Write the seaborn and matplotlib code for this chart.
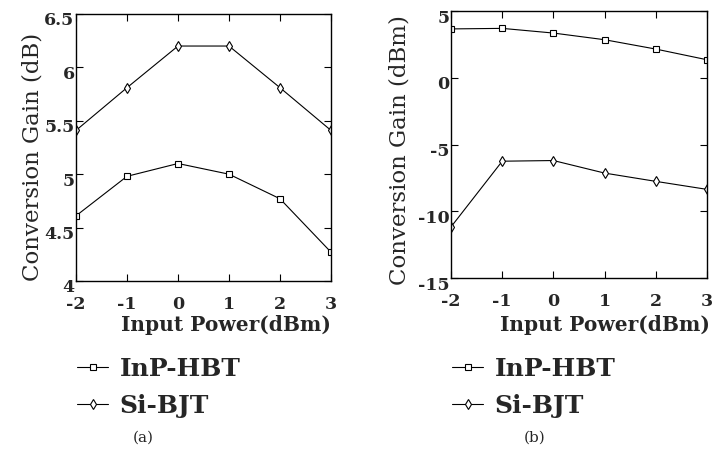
import matplotlib
matplotlib.use("Agg")
import matplotlib.pyplot as plt
import matplotlib.transforms as mtransforms
import pandas as pd
import seaborn as sns

# data
power = [-2, -1, 0, 1, 2, 3]
inp_a = [4.61, 4.98, 5.10, 5.00, 4.77, 4.27]
si_a = [5.41, 5.81, 6.20, 6.20, 5.81, 5.41]
inp_b = [3.66, 3.70, 3.35, 2.85, 2.15, 1.35]
si_b = [-11.17, -6.25, -6.2, -7.14, -7.76, -8.36]

x_ticks = [-2, -1, 0, 1, 2, 3]
y_ticks_a = [4, 4.5, 5, 5.5, 6, 6.5]
y_labels_a = ["4", "4.5", "5", "5.5", "6", "6.5"]
y_ticks_b = [-15, -10, -5, 0, 5]
y_labels_b = ["-15", "-10", "-5", "0", "5"]

df_a = pd.DataFrame({"power": power, "InP-HBT": inp_a, "Si-BJT": si_a})
df_b = pd.DataFrame({"power": power, "InP-HBT": inp_b, "Si-BJT": si_b})

sns.set_style("ticks")
plt.rcParams["font.family"] = ["DejaVu Serif"]

fig = plt.figure(figsize=(7.15, 4.5), dpi=100)
ax1 = fig.add_axes([0.1063, 0.3756, 0.3566, 0.5933])
ax2 = fig.add_axes([0.6308, 0.3822, 0.358, 0.5933])


def draw_panel(ax, df, yticks, ylabels, ylim, ylabel, ylab_x, ylab_y, xlab_x, xlab_y, leg_y):
    sns.lineplot(data=df, x="power", y="InP-HBT", ax=ax, color="black", lw=0.8,
                 marker="s", markersize=4, markerfacecolor="white",
                 markeredgecolor="black", markeredgewidth=0.8, label="InP-HBT")
    sns.lineplot(data=df, x="power", y="Si-BJT", ax=ax, color="black", lw=0.8,
                 marker="d", markersize=5.5, markerfacecolor="white",
                 markeredgecolor="black", markeredgewidth=0.8, label="Si-BJT")
    ax.set_xlim(-2, 3)
    ax.set_ylim(*ylim)
    ax.set_xticks(x_ticks)
    ax.set_xticklabels([str(t) for t in x_ticks], fontweight="bold", fontsize=12.5)
    ax.set_yticks(yticks)
    ax.set_yticklabels(ylabels, fontweight="bold", fontsize=12.5)
    ax.tick_params(direction="in", top=True, right=True, length=5, width=0.8,
                   pad=1, color="black")
    ax.tick_params(axis="x", pad=11)
    # y tick labels sit a little below their ticks in the original
    shift = mtransforms.ScaledTranslation(0, -0.05, fig.dpi_scale_trans)
    for lab in ax.get_yticklabels():
        lab.set_transform(lab.get_transform() + shift)
    for s in ax.spines.values():
        s.set_linewidth(1.0)
        s.set_color("black")
    ax.set_xlabel("Input Power(dBm)", fontweight="bold", fontsize=14.5)
    ax.xaxis.set_label_coords(xlab_x, xlab_y)
    ax.xaxis.label.set_va("center")
    ax.set_ylabel(ylabel, fontsize=16.5)
    ax.yaxis.set_label_coords(ylab_x, ylab_y)
    ax.yaxis.label.set_va("center")
    ax.legend(loc="upper left", bbox_to_anchor=(0.004, leg_y), frameon=False,
              borderaxespad=0, borderpad=0, handlelength=1.25, handletextpad=0.45,
              labelspacing=0.52, prop={"weight": "bold", "size": 18})


draw_panel(ax1, df_a, y_ticks_a, y_labels_a, (4, 6.5), "Conversion Gain (dB)",
           -0.169, 0.466, 0.59, -0.165, -0.285)
draw_panel(ax2, df_b, y_ticks_b, y_labels_b, (-15, 5), "Conversion Gain (dBm)",
           -0.2, 0.48, 0.60, -0.177, -0.296)

fig.text(143 / 715, 1 - 438 / 450, "(a)", ha="center", va="center", fontsize=11)
fig.text(535 / 715, 1 - 438 / 450, "(b)", ha="center", va="center", fontsize=11)

fig.savefig("out.png", dpi=100)
